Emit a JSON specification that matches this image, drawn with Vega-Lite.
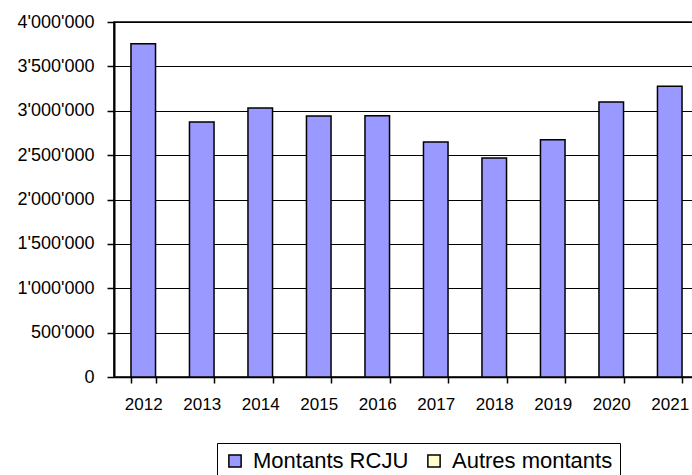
{
  "$schema": "https://vega.github.io/schema/vega-lite/v6.json",
  "autosize": "none",
  "padding": {"left": 114, "top": 22, "right": 0, "bottom": 98},
  "width": 585,
  "height": 355,
  "background": "white",
  "data": {
    "values": [
      {"year": "2012", "series": "Montants RCJU", "value": 3754000},
      {"year": "2013", "series": "Montants RCJU", "value": 2874000},
      {"year": "2014", "series": "Montants RCJU", "value": 3032000},
      {"year": "2015", "series": "Montants RCJU", "value": 2941000},
      {"year": "2016", "series": "Montants RCJU", "value": 2945000},
      {"year": "2017", "series": "Montants RCJU", "value": 2648000},
      {"year": "2018", "series": "Montants RCJU", "value": 2467000},
      {"year": "2019", "series": "Montants RCJU", "value": 2674000},
      {"year": "2020", "series": "Montants RCJU", "value": 3099000},
      {"year": "2021", "series": "Montants RCJU", "value": 3276000}
    ]
  },
  "mark": {"type": "bar", "stroke": "black", "strokeWidth": 1.5},
  "encoding": {
    "x": {
      "field": "year",
      "type": "nominal",
      "scale": {"paddingInner": 0.58, "paddingOuter": 0.29},
      "axis": {
        "title": null,
        "labelAngle": 0,
        "tickBand": "extent",
        "tickSize": 6,
        "tickColor": "black",
        "tickWidth": 1.5,
        "domainColor": "black",
        "domainWidth": 1.5,
        "labelFont": "Liberation Sans",
        "labelFontSize": 17,
        "labelColor": "black",
        "labelPadding": 13
      }
    },
    "y": {
      "field": "value",
      "type": "quantitative",
      "stack": "zero",
      "scale": {"domain": [0, 4000000], "nice": false},
      "axis": {
        "title": null,
        "values": [0, 500000, 1000000, 1500000, 2000000, 2500000, 3000000, 3500000, 4000000],
        "labelExpr": "replace(format(datum.value, ','), /,/g, \"'\")",
        "grid": true,
        "gridColor": "black",
        "gridWidth": 1.2,
        "gridOpacity": 1,
        "tickSize": 7,
        "tickColor": "black",
        "tickWidth": 1.5,
        "domainColor": "black",
        "domainWidth": 2,
        "labelFont": "Liberation Sans",
        "labelFontSize": 18,
        "labelColor": "black",
        "labelPadding": 13
      }
    },
    "color": {
      "field": "series",
      "type": "nominal",
      "scale": {"domain": ["Montants RCJU", "Autres montants"], "range": ["#9999FF", "#FFFFCC"]},
      "legend": {
        "title": null,
        "orient": "none",
        "legendX": 103,
        "legendY": 421,
        "direction": "horizontal",
        "strokeColor": "black",
        "fillColor": "white",
        "padding": 7,
        "symbolType": "square",
        "symbolSize": 150,
        "symbolStrokeColor": "black",
        "symbolStrokeWidth": 1.5,
        "symbolOpacity": 1,
        "labelFont": "Liberation Sans",
        "labelFontSize": 22,
        "labelColor": "black",
        "labelOffset": 7,
        "columnPadding": 14,
        "labelLimit": 300
      }
    }
  },
  "config": {
    "view": {"stroke": "black", "strokeWidth": 1.5},
    "axis": {"labelFont": "Liberation Sans"}
  }
}
